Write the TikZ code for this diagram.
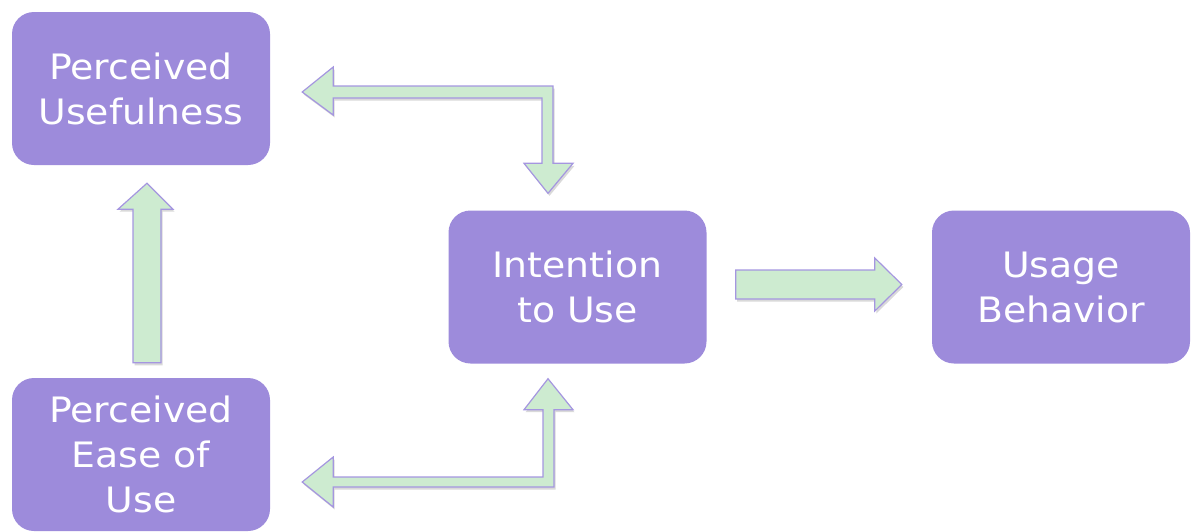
\documentclass[tikz,border=0pt]{standalone}
\usepackage{fontspec}
\newfontfamily\boxfont[FakeStretch=1.08]{DejaVu Sans}
\usetikzlibrary{calc,shadows}
\definecolor{boxpurple}{HTML}{9D8BDB}
\definecolor{arrowgreen}{HTML}{CDEBD0}
\definecolor{arrowedge}{HTML}{A596E0}
\tikzset{
  concept/.style={rectangle, rounded corners=22pt, fill=boxpurple, draw=none,
    minimum width=258pt, minimum height=153pt, text=white, align=center,
    font=\boxfont\fontsize{35}{45}\selectfont, inner sep=0pt},
  blockarrow/.style={fill=arrowgreen, draw=arrowedge, line width=1.2pt, line join=miter,
    drop shadow={shadow xshift=1.5pt, shadow yshift=-2.5pt, opacity=0.25, fill=black!60}}
}
\begin{document}
\begin{tikzpicture}[x=1pt,y=-1pt]
\useasboundingbox (0,0) rectangle (1193,531);
\node[concept] (pu) at (141,88.5) {Perceived\\Usefulness};
\node[concept] (peou) at (141,454.5) {Perceived\\Ease of\\Use};
\node[concept] (itu) at (577.5,287) {Intention\\to Use};
\node[concept] (ub) at (1061,287) {Usage\\Behavior};
% key points of connectors, derived from nodes
\coordinate (u1) at ($(pu.south)+(6,18)$);
\coordinate (u0) at ($(peou.north)+(6,-15)$);
\coordinate (t1) at ($(pu.east)+(32,3.5)$);
\coordinate (t2) at ($(itu.north)+(-29.5,-17)$);
\coordinate (b1) at ($(peou.east)+(32,27.5)$);
\coordinate (b2) at ($(itu.south)+(-29.5,15)$);
\coordinate (r0) at ($(itu.east)+(29,-2.5)$);
\coordinate (r1) at ($(ub.west)+(-30,-2.5)$);
% PEOU -> PU
\draw[blockarrow] ($(u0)+(14,0)$) -- ($(u0)+(-14,0)$) -- ($(u1)+(-14,26)$) -- ($(u1)+(-29,26)$)
  -- (u1) -- ($(u1)+(26,26)$) -- ($(u1)+(14,26)$) -- cycle;
% PU <-> ITU
\draw[blockarrow] (t1) -- ($(t1)+(31,-25)$) -- ($(t1)+(31,-6)$) -- ($(t2|-t1)+(5,-6)$)
  -- ($(t2)+(5,-30)$) -- ($(t2)+(25,-30)$) -- (t2) -- ($(t2)+(-24,-30)$) -- ($(t2)+(-6,-30)$)
  -- ($(t2|-t1)+(-6,6)$) -- ($(t1)+(31,6)$) -- ($(t1)+(31,23)$) -- cycle;
% PEOU <-> ITU
\draw[blockarrow] (b1) -- ($(b1)+(31,-25)$) -- ($(b1)+(31,-5)$) -- ($(b2|-b1)+(-5,-5)$)
  -- ($(b2)+(-5,31)$) -- ($(b2)+(-24,31)$) -- (b2) -- ($(b2)+(25,31)$) -- ($(b2)+(6,31)$)
  -- ($(b2|-b1)+(6,5)$) -- ($(b1)+(31,5)$) -- ($(b1)+(31,25)$) -- cycle;
% ITU -> UB
\draw[blockarrow] ($(r0)+(0,-14.5)$) -- ($(r1)+(-27,-14.5)$) -- ($(r1)+(-27,-26.5)$) -- (r1)
  -- ($(r1)+(-27,26.5)$) -- ($(r1)+(-27,14.5)$) -- ($(r0)+(0,14.5)$) -- cycle;
\end{tikzpicture}
\end{document}
